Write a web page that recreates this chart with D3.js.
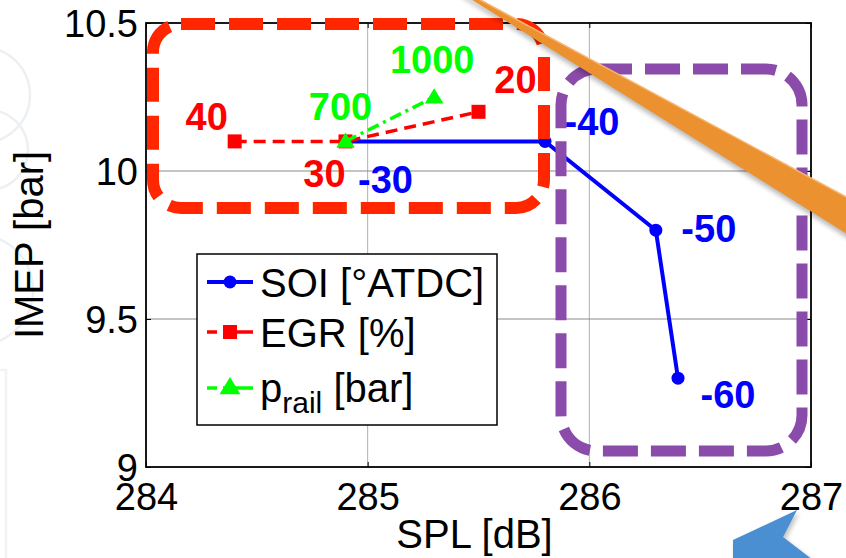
<!DOCTYPE html>
<html>
<head>
<meta charset="utf-8">
<script src="https://cdn.jsdelivr.net/npm/d3@7"></script>
<style>
  body { margin: 0; background: #fff; }
  svg { display: block; font-family: "Liberation Sans", Arial, Helvetica, sans-serif; }
</style>
</head>
<body>
<svg id="chart" width="846" height="558"></svg>
<script>
// SPL [dB] on x, IMEP [bar] on y, one sweep per parameter
const soiLabels  = ["-30", "-40", "-50", "-60"];
const soiSPL     = [284.9, 285.8, 286.3, 286.4];
const soiIMEP    = [10.1, 10.1, 9.8, 9.3];

const egrLabels  = ["40", "30", "20"];
const egrSPL     = [284.4, 284.9, 285.5];
const egrIMEP    = [10.1, 10.1, 10.2];

const railLabels = ["700", "1000"];
const railSPL    = [284.9, 285.3];
const railIMEP   = [10.1, 10.25];

const xTicks = [284, 285, 286, 287];
const xTickLabels = ["284", "285", "286", "287"];
const yTicks = [9, 9.5, 10, 10.5];
const yTickLabels = ["9", "9.5", "10", "10.5"];

// pixel nudges of the point annotations relative to their markers
const soiLabelOffsets  = [[40, 52], [47, -6], [53, 12], [50, 30]];
const egrLabelOffsets  = [[-28, -11], [-21, 46], [37, -19]];
const railLabelOffsets = [[-5, -21], [-2, -24]];

const svg = d3.select("#chart");
const plotL = 146, plotR = 811, plotT = 23, plotB = 467;

const x = d3.scaleLinear().domain([284, 287]).range([plotL, plotR]);
const y = d3.scaleLinear().domain([9, 10.5]).range([plotB, plotT]);

const zip = (xs, ys) => xs.map((v, i) => [v, ys[i]]);
const soi = zip(soiSPL, soiIMEP);
const egr = zip(egrSPL, egrIMEP);
const rail = zip(railSPL, railIMEP);

// faint background motif at the left edge
const bg = svg.append("g").attr("fill", "none").attr("stroke", "#edf0f3").attr("stroke-width", 2.5);
bg.append("circle").attr("cx", -18).attr("cy", 95).attr("r", 48);
bg.append("circle").attr("cx", -12).attr("cy", 150).attr("r", 40);
bg.append("circle").attr("cx", -22).attr("cy", 290).attr("r", 55);
bg.append("rect").attr("x", -4).attr("y", 370).attr("width", 10).attr("height", 190)
  .attr("stroke", "#f1f3f5");

// grid
const grid = svg.append("g");
grid.selectAll("line.gx").data(xTicks.slice(1, -1)).join("line")
  .attr("x1", d => x(d)).attr("x2", d => x(d)).attr("y1", plotT).attr("y2", plotB)
  .attr("stroke", "#b0b0b0").attr("stroke-width", 1);
grid.selectAll("line.gy").data(yTicks.slice(1, -1)).join("line")
  .attr("y1", d => y(d)).attr("y2", d => y(d)).attr("x1", plotL).attr("x2", plotR)
  .attr("stroke", "#8a8a8a").attr("stroke-width", 1);

// axes
const fmtX = d => xTickLabels[xTicks.indexOf(d)];
const fmtY = d => yTickLabels[yTicks.indexOf(d)];

const gx = svg.append("g").attr("transform", `translate(0,${plotB})`)
  .call(d3.axisBottom(x).tickValues(xTicks).tickFormat(fmtX).tickSizeInner(-5).tickSizeOuter(0).tickPadding(16));
const gy = svg.append("g").attr("transform", `translate(${plotL},0)`)
  .call(d3.axisLeft(y).tickValues(yTicks).tickFormat(fmtY).tickSizeInner(-5).tickSizeOuter(0).tickPadding(8));
const gxt = svg.append("g").attr("transform", `translate(0,${plotT})`)
  .call(d3.axisTop(x).tickValues(xTicks).tickFormat("").tickSizeInner(-5).tickSizeOuter(0));
const gyr = svg.append("g").attr("transform", `translate(${plotR},0)`)
  .call(d3.axisRight(y).tickValues(yTicks).tickFormat("").tickSizeInner(-5).tickSizeOuter(0));

[gx, gy, gxt, gyr].forEach(g => {
  g.select(".domain").remove();
  g.selectAll(".tick line").attr("stroke", "#000").attr("stroke-width", 1);
  g.selectAll(".tick text").attr("fill", "#000").attr("font-size", 38)
    .attr("font-family", "'Liberation Sans', Arial, sans-serif");
});
gy.selectAll(".tick text").attr("dy", "0.35em");

svg.append("rect").attr("x", plotL).attr("y", plotT)
  .attr("width", plotR - plotL).attr("height", plotB - plotT)
  .attr("fill", "none").attr("stroke", "#000").attr("stroke-width", 1.8);

// axis titles
svg.append("text").attr("x", (plotL + plotR) / 2 - 4).attr("y", 548)
  .attr("text-anchor", "middle").attr("font-size", 40).text("SPL [dB]");
svg.append("text").attr("transform", `translate(43,${(plotT + plotB) / 2}) rotate(-90)`)
  .attr("text-anchor", "middle").attr("font-size", 40).text("IMEP [bar]");

// series
const line = d3.line().x(d => x(d[0])).y(d => y(d[1]));
const BLUE = "#0000ff", RED = "#ff0000", GREEN = "#00ff00";
const tri = s => `M0,${-s * 0.55} L${s * 0.58},${s * 0.4} L${-s * 0.58},${s * 0.4} Z`;

svg.append("path").datum(soi).attr("d", line)
  .attr("fill", "none").attr("stroke", BLUE).attr("stroke-width", 4);
svg.selectAll("circle.soi").data(soi).join("circle")
  .attr("cx", d => x(d[0])).attr("cy", d => y(d[1])).attr("r", 6.5).attr("fill", BLUE);

svg.append("path").datum(egr).attr("d", line)
  .attr("fill", "none").attr("stroke", RED).attr("stroke-width", 3.5).attr("stroke-dasharray", "12,7");
svg.selectAll("rect.egr").data(egr).join("rect")
  .attr("x", d => x(d[0]) - 7).attr("y", d => y(d[1]) - 7).attr("width", 14).attr("height", 14).attr("fill", RED);

svg.append("path").datum(rail).attr("d", line)
  .attr("fill", "none").attr("stroke", GREEN).attr("stroke-width", 3.5).attr("stroke-dasharray", "12,5,3,5");
svg.selectAll("path.rail").data(rail).join("path")
  .attr("transform", d => `translate(${x(d[0])},${y(d[1])})`).attr("d", tri(16)).attr("fill", GREEN);

// point annotations
function annotate(points, labels, offsets, color) {
  svg.append("g").selectAll("text").data(points).join("text")
    .attr("x", (d, i) => x(d[0]) + offsets[i][0])
    .attr("y", (d, i) => y(d[1]) + offsets[i][1])
    .attr("text-anchor", "middle").attr("font-size", 38).attr("font-weight", "bold")
    .attr("fill", color).text((d, i) => labels[i]);
}
annotate(soi, soiLabels, soiLabelOffsets, BLUE);
annotate(egr, egrLabels, egrLabelOffsets, RED);
annotate(rail, railLabels, railLabelOffsets, GREEN);

// legend
const lg = svg.append("g");
lg.append("rect").attr("x", 197).attr("y", 254).attr("width", 300).attr("height", 171)
  .attr("fill", "#fff").attr("stroke", "#000").attr("stroke-width", 1.5);
const rows = [282, 332, 388];
lg.append("line").attr("x1", 207).attr("x2", 253).attr("y1", rows[0]).attr("y2", rows[0])
  .attr("stroke", BLUE).attr("stroke-width", 4);
lg.append("circle").attr("cx", 230).attr("cy", rows[0]).attr("r", 6.5).attr("fill", BLUE);
lg.append("line").attr("x1", 207).attr("x2", 253).attr("y1", rows[1]).attr("y2", rows[1])
  .attr("stroke", RED).attr("stroke-width", 3.5).attr("stroke-dasharray", "10,6,30");
lg.append("rect").attr("x", 223).attr("y", rows[1] - 7).attr("width", 14).attr("height", 14).attr("fill", RED);
lg.append("line").attr("x1", 207).attr("x2", 253).attr("y1", rows[2]).attr("y2", rows[2])
  .attr("stroke", GREEN).attr("stroke-width", 3.5).attr("stroke-dasharray", "10,6,30");
lg.append("path").attr("transform", `translate(230,${rows[2] - 1})`).attr("d", tri(18)).attr("fill", GREEN);

lg.append("text").attr("x", 260).attr("y", rows[0] + 15).attr("font-size", 40).text("SOI [°ATDC]");
lg.append("text").attr("x", 260).attr("y", rows[1] + 15).attr("font-size", 40).text("EGR [%]");
const t3 = lg.append("text").attr("x", 260).attr("y", rows[2] + 14).attr("font-size", 40);
t3.append("tspan").text("p");
t3.append("tspan").attr("font-size", 30).attr("dy", 11).text("rail");
t3.append("tspan").attr("dy", -11).text(" [bar]");

// highlight frames around the two groups of settings
svg.append("rect").attr("x", 153).attr("y", 24).attr("width", 391).attr("height", 184)
  .attr("rx", 28).attr("fill", "none").attr("stroke", "#ff2600").attr("stroke-width", 12)
  .attr("stroke-dasharray", "34,14");
svg.append("rect").attr("x", 561).attr("y", 69).attr("width", 241).attr("height", 382)
  .attr("rx", 36).attr("fill", "none").attr("stroke", "#8a4bab").attr("stroke-width", 11)
  .attr("stroke-dasharray", "35,13");

// pointer callouts
const defs = svg.append("defs");
defs.append("filter").attr("id", "soft").append("feGaussianBlur").attr("stdDeviation", 2.5);
const band = [[421, -32], [900, 226], [900, 267]];
svg.append("polygon").attr("points", band.map(p => [p[0] + 2, p[1] + 5].join(",")).join(" "))
  .attr("fill", "#000").attr("opacity", 0.28).attr("filter", "url(#soft)");
svg.append("polygon").attr("points", band.map(p => p.join(",")).join(" "))
  .attr("fill", "#ec912f");
svg.append("polyline").attr("points", band.slice(0, 2).map(p => p.join(",")).join(" "))
  .attr("fill", "none").attr("stroke", "#f6b66e").attr("stroke-width", 1.5);

const arrow = [[797, 510], [733, 540], [733, 560], [813, 560], [783, 537]];
svg.append("polygon").attr("points", arrow.map(p => [p[0] + 2, p[1] + 3].join(",")).join(" "))
  .attr("fill", "#000").attr("opacity", 0.25).attr("filter", "url(#soft)");
svg.append("polygon").attr("points", arrow.map(p => p.join(",")).join(" "))
  .attr("fill", "#4a8fd1");
</script>
</body>
</html>
